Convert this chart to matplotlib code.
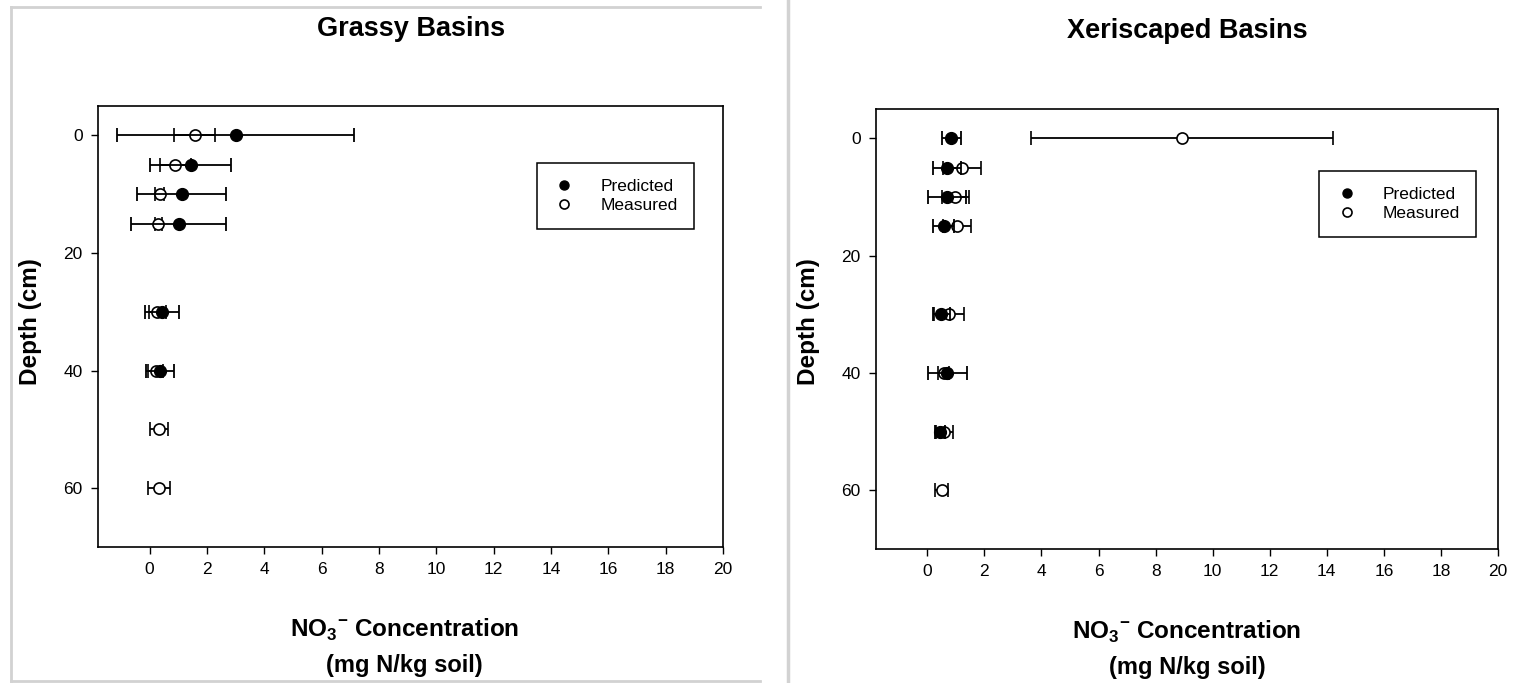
import matplotlib
matplotlib.use("Agg")
import matplotlib.pyplot as plt
from matplotlib.lines import Line2D

plt.rcParams['font.family'] = ['Liberation Sans', 'DejaVu Sans']
plt.rcParams['mathtext.fontset'] = 'custom'
plt.rcParams['mathtext.rm'] = 'Liberation Sans'
plt.rcParams['mathtext.bf'] = 'Liberation Sans:bold'

# grassy basins
depth_g_pred = [0, 5, 10, 15, 30, 40]
pred_g = [3.0, 1.43, 1.12, 1.01, 0.43, 0.37]
pred_g_err = [4.13, 1.42, 1.55, 1.67, 0.6, 0.48]
depth_g_meas = [0, 5, 10, 15, 30, 40, 50, 60]
meas_g = [1.57, 0.9, 0.35, 0.3, 0.27, 0.21, 0.32, 0.33]
meas_g_err = [0.73, 0.55, 0.15, 0.12, 0.3, 0.25, 0.32, 0.37]

# xeriscaped basins
depth_x_pred = [0, 5, 10, 15, 30, 40, 50]
pred_x = [0.84, 0.69, 0.69, 0.57, 0.49, 0.7, 0.45]
pred_x_err = [0.33, 0.5, 0.66, 0.38, 0.3, 0.69, 0.18]
depth_x_meas = [0, 5, 10, 15, 30, 40, 50, 60]
meas_x = [8.93, 1.22, 0.98, 1.04, 0.75, 0.57, 0.6, 0.5]
meas_x_err = [5.28, 0.67, 0.47, 0.5, 0.53, 0.2, 0.3, 0.23]

x_ticks = list(range(0, 21, 2))
y_ticks = [0, 20, 40, 60]

fig = plt.figure(figsize=(15.16, 6.83), dpi=100)

# gray panel frames
gray = '#d2d2d2'
fig.add_artist(Line2D([11/1516, 11/1516], [1-7/683, 1-681/683], color=gray, lw=2))
fig.add_artist(Line2D([11/1516, 760/1516], [1-7/683, 1-7/683], color=gray, lw=2))
fig.add_artist(Line2D([11/1516, 760/1516], [1-681/683, 1-681/683], color=gray, lw=2))
fig.add_artist(Line2D([788/1516, 788/1516], [0, 1], color=gray, lw=2.5))

ax1 = fig.add_axes([0.0646, 0.1991, 0.4123, 0.6457])
ax2 = fig.add_axes([0.5778, 0.1962, 0.4103, 0.6442])


def draw(ax, dp, p, pe, dm, m, me, leg_anchor):
    ax.errorbar(m, dm, xerr=me, fmt='o', color='black', mfc='white', mec='black',
                ms=8, mew=1.2, capsize=5, capthick=1.3, elinewidth=1.3, zorder=3)
    ax.errorbar(p, dp, xerr=pe, fmt='o', color='black', mfc='black', mec='black',
                ms=8.5, capsize=5, capthick=1.3, elinewidth=1.3, zorder=4)
    ax.set_xlim(-1.8, 20)
    ax.set_ylim(70, -5)
    ax.set_xticks(x_ticks)
    ax.set_yticks(y_ticks)
    ax.tick_params(direction='out', length=5, width=1, labelsize=12.5, pad=6)
    for s in ax.spines.values():
        s.set_linewidth(1.2)
    handles = [
        Line2D([], [], ls='none', marker='o', ms=6.5, mfc='black', mec='black'),
        Line2D([], [], ls='none', marker='o', ms=6.5, mfc='white', mec='black', mew=1.2),
    ]
    leg = ax.legend(handles, ['Predicted', 'Measured'], loc='upper left',
                    bbox_to_anchor=leg_anchor, fontsize=12.5, frameon=True,
                    fancybox=False, edgecolor='black', framealpha=1,
                    handlelength=1.4, handletextpad=1.4, borderpad=0.9,
                    labelspacing=0.25, borderaxespad=0)
    leg.get_frame().set_linewidth(1.1)


draw(ax1, depth_g_pred, pred_g, pred_g_err, depth_g_meas, meas_g, meas_g_err, (0.702, 0.871))
draw(ax2, depth_x_pred, pred_x, pred_x_err, depth_x_meas, meas_x, meas_x_err, (0.712, 0.859))

fig.text(0.271, 0.9575, 'Grassy Basins', ha='center', va='center', fontsize=19.5, fontweight='bold')
fig.text(0.783, 0.9545, 'Xeriscaped Basins', ha='center', va='center', fontsize=19.5, fontweight='bold')

for xl in [0.0198, 0.533]:
    fig.text(xl, 0.5286, 'Depth (cm)', rotation=90, ha='center', va='center',
             fontsize=17.5, fontweight='bold')

fig.text(0.267, 0.0776, r'NO$_\mathbf{3}$$^{\mathbf{-}}$ Concentration', ha='center', va='center',
         fontsize=17.5, fontweight='bold')
fig.text(0.267, 0.0249, '(mg N/kg soil)', ha='center', va='center', fontsize=17, fontweight='bold')
fig.text(0.783, 0.0747, r'NO$_\mathbf{3}$$^{\mathbf{-}}$ Concentration', ha='center', va='center',
         fontsize=17.5, fontweight='bold')
fig.text(0.783, 0.022, '(mg N/kg soil)', ha='center', va='center', fontsize=17, fontweight='bold')

fig.savefig('out.png', dpi=100)
